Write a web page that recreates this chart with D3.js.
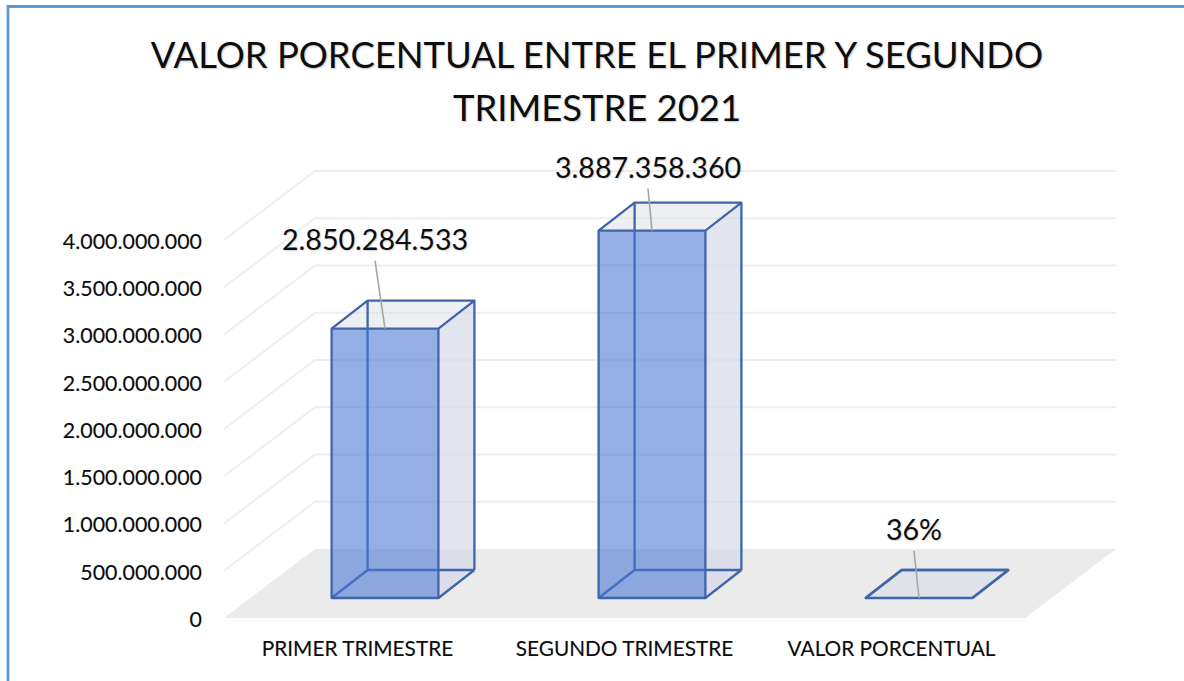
<!DOCTYPE html>
<html><head><meta charset="utf-8">
<script src="https://cdnjs.cloudflare.com/ajax/libs/d3/7.8.5/d3.min.js"></script>
<style>
html,body{margin:0;padding:0;background:#fff;overflow:hidden}
svg{display:block}
text{font-family:Lato,"Open Sans",sans-serif;fill:#0d0d0d}
.title{font-size:36.4px;text-shadow:1px 1px 2px rgba(0,0,0,.22)}
.dl{font-size:28.6px;text-shadow:1px 1px 1.5px rgba(0,0,0,.18)}
.axis text{text-shadow:0 0 1px rgba(0,0,0,.2)}
</style></head><body>
<script>
const categories=["PRIMER TRIMESTRE","SEGUNDO TRIMESTRE","VALOR PORCENTUAL"];
const values=[2850284533,3887358360,0.36];
const dataLabels=["2.850.284.533","3.887.358.360","36%"];
const yTicks=[0,500000000,1000000000,1500000000,2000000000,2500000000,3000000000,3500000000,4000000000];
const titleLines=["VALOR PORCENTUAL ENTRE EL PRIMER Y SEGUNDO","TRIMESTRE 2021"];

const W=1184,H=681;
const floorY=618, x0=224, x1=1025;
const wall={dx:91,dy:-69};     // floor depth
const front={dx:27.5,dy:-20};  // bar front offset from the floor's front edge
const depth={dx:36,dy:-28};    // bar depth
const leader=[{dx:-10,dy:-68},{dx:-4,dy:-42},{dx:-5,dy:-47}];

const svg=d3.select("body").append("svg").attr("width",W).attr("height",H);
const x=d3.scaleBand().domain(categories).range([x0,x1]).paddingInner(0.6).paddingOuter(0.3);
const y=d3.scaleLinear().domain([0,4000000000]).range([floorY,floorY-378]);
const fmt=d3.formatLocale({decimal:",",thousands:".",grouping:[3],currency:["",""]}).format(",d");

// frame
svg.append("path").attr("d",`M8,${H}V6.5H${W}`).attr("fill","none").attr("stroke","#5b9bd5").attr("stroke-width",2.8);

// title
svg.selectAll(".title").data(titleLines).join("text").attr("class","title")
  .attr("x",597).attr("y",(d,i)=>[68,121][i]).attr("text-anchor","middle").text(d=>d);

// gridlines on the side and back walls
const grid=svg.append("g").attr("fill","none").attr("stroke","#eeeeee").attr("stroke-width",2);
grid.selectAll("path").data(yTicks.filter(d=>d>0)).join("path")
  .attr("d",d=>`M${x0},${y(d)}L${x0+wall.dx},${y(d)+wall.dy}H${x1+wall.dx}`);

// floor
svg.append("path").attr("fill","#ebebeb")
  .attr("d",`M${x0},${floorY}H${x1}L${x1+wall.dx},${floorY+wall.dy}H${x0+wall.dx}Z`);

// axes
const yAxis=svg.append("g").attr("class","axis").attr("transform","translate(202,1)")
  .call(d3.axisLeft(y).tickValues(yTicks).tickFormat(fmt).tickSize(0).tickPadding(0));
yAxis.select(".domain").remove();
yAxis.selectAll("text").attr("dy","0.34em").style("font-size","21.4px");

const xAxis=svg.append("g").attr("class","axis").attr("transform","translate(0,641)")
  .call(d3.axisBottom(x).tickSize(0).tickPadding(0));
xAxis.select(".domain").remove();
xAxis.selectAll("text").attr("dy","0.71em").style("font-size","20.8px");

// bars
const stroke="#3f65aa";
const bars=svg.append("g").selectAll("g").data(categories.map((c,i)=>({c,v:values[i],i}))).join("g")
  .attr("transform",d=>`translate(${x(d.c)+front.dx},${front.dy})`);
const bw=x.bandwidth();
const d1=depth.dx,d2=depth.dy;
// back and bottom edges, right side, top
bars.append("path").attr("fill","#d5d9e8").attr("fill-opacity",.7)
  .attr("d",d=>`M${bw},${y(0)}L${bw+d1},${y(0)+d2}V${y(d.v)+d2}L${bw},${y(d.v)}Z`);
bars.append("path").attr("fill","#dfe2ea").attr("fill-opacity",.55)
  .attr("d",d=>`M0,${y(d.v)}L${d1},${y(d.v)+d2}H${bw+d1}L${bw},${y(d.v)}Z`);
bars.filter(d=>d.i===2).append("path").attr("fill","#dfe2e8")
  .attr("d",d=>`M0,${y(d.v)}L${d1},${y(d.v)+d2}H${bw+d1}L${bw},${y(d.v)}Z`);
bars.append("path").attr("fill","none").attr("stroke",stroke).attr("stroke-width",2.3)
  .attr("d",d=>`M${d1},${y(d.v)+d2}V${y(0)+d2}M0,${y(0)}L${d1},${y(0)+d2}H${bw+d1}M${bw},${y(0)}L${bw+d1},${y(0)+d2}`);
// front face
bars.append("rect").attr("x",0).attr("width",bw).attr("y",d=>y(d.v)).attr("height",d=>y(0)-y(d.v))
  .attr("fill","#4776d4").attr("fill-opacity",.58);
// outline
bars.append("path").attr("fill","none").attr("stroke",stroke).attr("stroke-width",2.3).attr("stroke-linejoin","round")
  .attr("d",d=>`M0,${y(0)}V${y(d.v)}H${bw}V${y(0)}ZM0,${y(d.v)}L${d1},${y(d.v)+d2}H${bw+d1}L${bw},${y(d.v)}M${bw+d1},${y(d.v)+d2}V${y(0)+d2}`);

// leader lines and data labels
bars.append("line").attr("stroke","#a6a6a6").attr("stroke-width",1.6)
  .attr("x1",bw/2).attr("y1",d=>y(d.v))
  .attr("x2",d=>bw/2+leader[d.i].dx).attr("y2",d=>y(d.v)+leader[d.i].dy);
bars.append("text").attr("class","dl").attr("text-anchor","middle")
  .attr("x",d=>bw/2+leader[d.i].dx).attr("y",d=>y(d.v)+leader[d.i].dy-11)
  .text(d=>dataLabels[d.i]);
</script>
</body></html>
